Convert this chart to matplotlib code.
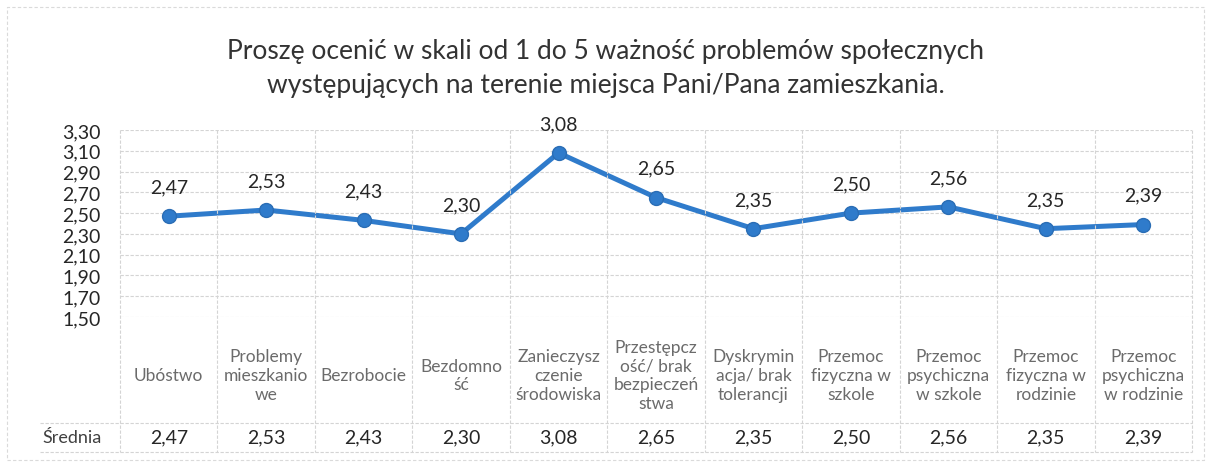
"""Excel-style line chart with a data table row: ocena problemów społecznych."""
import matplotlib
matplotlib.use("Agg")
import matplotlib.pyplot as plt
from matplotlib.lines import Line2D
from matplotlib.patches import Rectangle
from matplotlib.transforms import blended_transform_factory

TITLE = ("Proszę ocenić w skali od 1 do 5 ważność problemów społecznych\n"
         "występujących na terenie miejsca Pani/Pana zamieszkania.")
categories = [
    "Ubóstwo",
    "Problemy\nmieszkanio\nwe",
    "Bezrobocie",
    "Bezdomno\nść",
    "Zanieczysz\nczenie\nśrodowiska",
    "Przestępcz\ność/ brak\nbezpieczeń\nstwa",
    "Dyskrymin\nacja/ brak\ntolerancji",
    "Przemoc\nfizyczna w\nszkole",
    "Przemoc\npsychiczna\nw szkole",
    "Przemoc\nfizyczna w\nrodzinie",
    "Przemoc\npsychiczna\nw rodzinie",
]
srednia = [2.47, 2.53, 2.43, 2.30, 3.08, 2.65, 2.35, 2.50, 2.56, 2.35, 2.39]
series_name = "Średnia"
y_ticks = [1.50, 1.70, 1.90, 2.10, 2.30, 2.50, 2.70, 2.90, 3.10, 3.30]

W, H = 1211, 464
FONT = "Lato"
LINE_C = "#2f7bcb"
GRID_C = "#d4d4d4"
TEXT_C = "#262626"
CAT_C = "#6b6b6b"


def fx(px):
    return px / W


def fy(py):
    return 1 - py / H


def comma(v):
    return f"{v:.2f}".replace(".", ",")


def main():
    plt.rcParams["font.family"] = [FONT, "DejaVu Sans"]
    fig = plt.figure(figsize=(W / 100, H / 100), dpi=100)
    fig.patch.set_facecolor("white")

    # chart border (faint, dashed like the scan)
    fig.add_artist(Rectangle((fx(7), fy(461)), fx(1204) - fx(7), fy(8) - fy(461),
                             transform=fig.transFigure, fill=False,
                             ec="#dadada", lw=0.8, ls=(0, (3, 2))))

    fig.text(0.5, fy(69), TITLE, ha="center", va="center", fontsize=19,
             color="#333333", linespacing=1.45)

    left, right, top, bottom = 120, 1192, 131, 318
    ax = fig.add_axes([fx(left), fy(bottom), fx(right) - fx(left), fy(top) - fy(bottom)])
    n = len(categories)
    xs = list(range(n))
    ax.set_xlim(-0.5, n - 0.5)
    ax.set_ylim(y_ticks[0], y_ticks[-1])
    for s in ax.spines.values():
        s.set_visible(False)
    ax.set_xticks([])
    ax.set_yticks(y_ticks)
    ax.set_yticklabels([comma(v) for v in y_ticks], fontsize=14, color=TEXT_C)
    ax.tick_params(axis="y", length=0, pad=14)
    for v in y_ticks:
        ax.axhline(v, color=GRID_C, lw=0.8, ls=(0, (3, 1.5)), zorder=0)

    ax.plot(xs, srednia, color=LINE_C, lw=3.6, marker="o", ms=10,
            mfc=LINE_C, mec="#2a6db5", mew=1, zorder=3, clip_on=False)
    for x, v in zip(xs, srednia):
        ax.annotate(comma(v), (x, v), xytext=(0, 21), textcoords="offset points",
                    ha="center", va="center", fontsize=14, color=TEXT_C)

    # category cells and data table below the plot
    tr = blended_transform_factory(ax.transData, fig.transFigure)
    for i in range(n + 1):
        fig.add_artist(Line2D([i - 0.5, i - 0.5], [fy(top), fy(453)], transform=tr,
                              color=GRID_C, lw=0.8, ls=(0, (3, 1.5))))
    for py in (424, 453):
        fig.add_artist(Line2D([fx(40), fx(right)], [fy(py), fy(py)],
                              transform=fig.transFigure, color=GRID_C, lw=0.8,
                              ls=(0, (3, 1.5))))
    for x, lab in zip(xs, categories):
        ax.text(x, fy(376), lab, transform=tr, ha="center", va="center",
                fontsize=12.5, color=CAT_C, linespacing=1.2)
    for x, v in zip(xs, srednia):
        ax.text(x, fy(438), comma(v), transform=tr, ha="center", va="center",
                fontsize=14, color=TEXT_C)
    fig.text(fx(72), fy(438), series_name, ha="center", va="center",
             fontsize=13, color="#404040")

    fig.savefig("out.png", dpi=100)
    plt.close(fig)


if __name__ == "__main__":
    main()
